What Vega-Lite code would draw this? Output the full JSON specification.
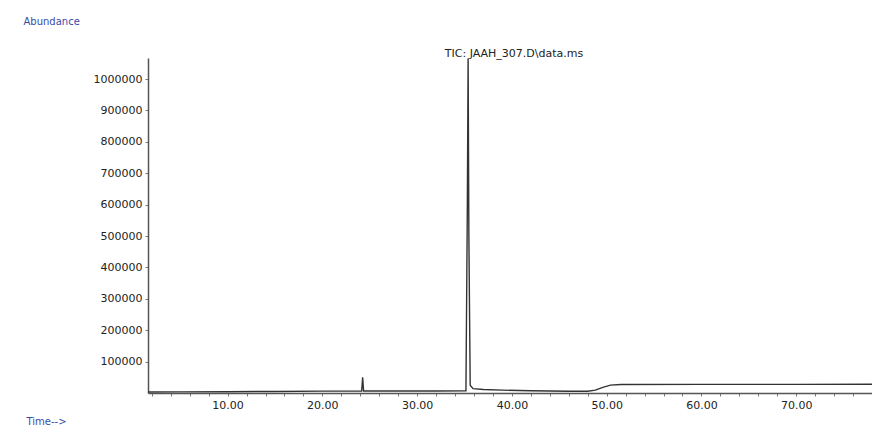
{
  "$schema": "https://vega.github.io/schema/vega-lite/v6.json",
  "width": 724,
  "height": 335,
  "autosize": {"type": "none"},
  "padding": {"left": 148, "top": 58, "right": 0, "bottom": 39},
  "background": "white",
  "title": {
    "text": "TIC: JAAH_307.D\\data.ms",
    "anchor": "middle",
    "font": "DejaVu Sans",
    "fontSize": 11,
    "fontWeight": "normal",
    "color": "#222222",
    "offset": 0,
    "dx": 4,
    "dy": 43
  },
  "data": {
    "values": [
      {"t": 1.6, "a": 3000},
      {"t": 5, "a": 3500},
      {"t": 10, "a": 4000},
      {"t": 15, "a": 5000},
      {"t": 20, "a": 6000},
      {"t": 24.15, "a": 6500},
      {"t": 24.25, "a": 50000},
      {"t": 24.35, "a": 6500},
      {"t": 28, "a": 6500},
      {"t": 32, "a": 6500},
      {"t": 35.15, "a": 7000},
      {"t": 35.3, "a": 600000},
      {"t": 35.38, "a": 1066000},
      {"t": 35.46, "a": 500000},
      {"t": 35.6, "a": 25000},
      {"t": 35.9, "a": 14000},
      {"t": 37, "a": 11000},
      {"t": 39, "a": 9000},
      {"t": 42, "a": 7000},
      {"t": 46, "a": 5500},
      {"t": 48, "a": 5500},
      {"t": 48.8, "a": 9000},
      {"t": 49.6, "a": 18000},
      {"t": 50.4, "a": 25000},
      {"t": 51.5, "a": 27000},
      {"t": 60, "a": 27500},
      {"t": 70, "a": 27500},
      {"t": 78, "a": 28000}
    ]
  },
  "mark": {"type": "line", "color": "#333333", "strokeWidth": 1.4, "clip": true},
  "encoding": {
    "x": {
      "field": "t",
      "type": "quantitative",
      "scale": {"domain": [1.6, 78], "nice": false, "zero": false},
      "axis": {
        "title": "Time-->",
        "values": [2, 4, 6, 8, 10, 12, 14, 16, 18, 20, 22, 24, 26, 28, 30, 32, 34, 36, 38, 40, 42, 44, 46, 48, 50, 52, 54, 56, 58, 60, 62, 64, 66, 68, 70, 72, 74, 76],
        "labelExpr": "datum.value % 10 === 0 ? format(datum.value, '.2f') : ''",
        "labelOverlap": false,
        "labelFont": "DejaVu Sans",
        "labelFontSize": 11,
        "labelColor": "#222222",
        "labelPadding": 3,
        "tickSize": 3,
        "tickColor": "#777777",
        "domainColor": "#555555",
        "domainWidth": 1.5,
        "grid": false,
        "titleFont": "DejaVu Sans",
        "titleFontSize": 10,
        "titleFontWeight": "normal",
        "titleColor": "#3a4aa8",
        "titleAlign": "left",
        "titleBaseline": "middle",
        "titleAnchor": "start",
        "titleX": -122,
        "titleY": 28
      }
    },
    "y": {
      "field": "a",
      "type": "quantitative",
      "scale": {"domain": [0, 1067000], "nice": false},
      "axis": {
        "title": "Abundance",
        "values": [100000, 200000, 300000, 400000, 500000, 600000, 700000, 800000, 900000, 1000000],
        "format": "d",
        "labelFont": "DejaVu Sans",
        "labelFontSize": 11,
        "labelColor": "#222222",
        "labelPadding": 3,
        "tickSize": 3,
        "tickColor": "#777777",
        "domainColor": "#555555",
        "domainWidth": 1.5,
        "grid": false,
        "titleFont": "DejaVu Sans",
        "titleFontSize": 10,
        "titleFontWeight": "normal",
        "titleColor": "#3a4aa8",
        "titleAngle": 0,
        "titleAlign": "left",
        "titleBaseline": "middle",
        "titleX": -125,
        "titleY": -37
      }
    }
  },
  "config": {
    "view": {"stroke": null}
  }
}
